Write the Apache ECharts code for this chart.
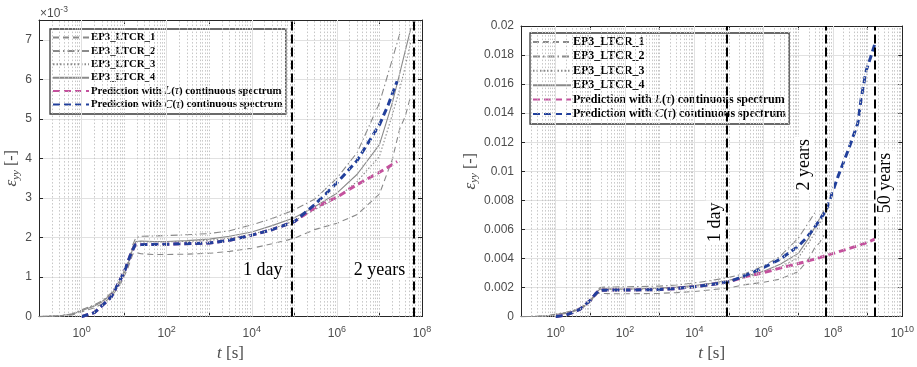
<!DOCTYPE html>
<html>
<head>
<meta charset="utf-8">
<script src="https://cdn.jsdelivr.net/npm/echarts@6/dist/echarts.min.js"></script>
<style>
  html, body { margin: 0; padding: 0; background: #fff; }
  #chart { width: 917px; height: 367px; }
</style>
</head>
<body>
<div id="chart"></div>
<script>
// ---- creep test records: time [s] and strain eps_yy in units of 1e-3 ----
const expTime = [0.1, 0.3, 0.6, 1, 2, 3, 5, 8, 12, 16, 19, 25, 50, 100, 300, 1e3, 3e3,
                 1e4, 3e4, 1e5, 3e5, 1e6, 3e6, 1e7, 2e7, 3e7, 4e7, 5.5e7];
const ltcr1 = [0, 0.01, 0.04, 0.12, 0.22, 0.32, 0.50, 0.80, 1.20, 1.58, 1.62, 1.59, 1.57, 1.57,
               1.58, 1.60, 1.65, 1.73, 1.84, 1.98, 2.20, 2.36, 2.58, 3.10, 3.97, 4.75, 5.05, 5.60];
const ltcr2 = [0, 0.02, 0.07, 0.17, 0.30, 0.40, 0.60, 0.92, 1.35, 1.82, 2.00, 2.03, 2.04, 2.05,
               2.07, 2.10, 2.17, 2.32, 2.48, 2.70, 2.97, 3.50, 4.15, 5.40, 6.50, 7.15, null, null];
const ltcr3 = [0, 0.02, 0.06, 0.16, 0.28, 0.38, 0.57, 0.88, 1.30, 1.75, 1.90, 1.89, 1.89, 1.89,
               1.90, 1.93, 1.98, 2.08, 2.22, 2.42, 2.70, 3.00, 3.42, 4.05, 5.10, 5.75, 6.30, 6.97];
const ltcr4 = [0, 0.02, 0.06, 0.15, 0.27, 0.37, 0.56, 0.86, 1.28, 1.72, 1.90, 1.91, 1.90, 1.90,
               1.92, 1.96, 2.03, 2.14, 2.30, 2.50, 2.78, 3.12, 3.60, 4.35, 5.40, 6.15, 6.70, 7.30];

// ---- model predictions (strain in units of 1e-3) ----
const predTime = [1, 2, 3.2, 5, 7, 10, 14, 18, 25, 100, 1e3, 3e3, 1e4, 3e4, 1e5, 3e5, 1e6, 3e6,
                  1e7, 1.6e7, 2.6e7, 6.3e7, 1.4e8, 3e8, 5.2e8, 6.5e8, 9e8, 1.2e9, 1.58e9];
const predL = [0, 0.10, 0.30, 0.50, 0.80, 1.12, 1.55, 1.81, 1.82, 1.83, 1.86, 1.93, 2.06, 2.20,
               2.40, 2.75, 3.02, 3.34, 3.65, 3.78, 3.92, 4.20, 4.45, 4.70, 4.88, 4.95, 5.07, 5.20, 5.33];
const predC = [0, 0.10, 0.30, 0.50, 0.80, 1.12, 1.55, 1.81, 1.82, 1.83, 1.86, 1.93, 2.06, 2.20,
               2.40, 2.83, 3.38, 3.95, 4.85, 5.35, 5.95, 7.30, 9.65, 11.7, 13.3, 15.0, 16.9, 17.8, 18.7];
const shortHorizon = 2.6e7;   // the left panel shows the predictions up to this time

// ---- reference durations [s] ----
const oneDay = 86400, twoYears = 6.3072e7, fiftyYears = 1.5768e9;

// ---- axis ranges ----
const leftX = [0.1, 1e8], rightX = [0.1, 1e10];
const leftY = [0, 0.0075], rightY = [0, 0.02];

const names = ['EP3_LTCR_1', 'EP3_LTCR_2', 'EP3_LTCR_3', 'EP3_LTCR_4',
               'Prediction with L(τ) continuous spectrum', 'Prediction with C(τ) continuous spectrum'];

const GRAY = '#8a8a8a', PINK = '#c4519d', BLUE = '#22409c', INK = '#262626';

const pairs = (ts, vs) => ts.map((t, i) => [t, vs[i] == null ? null : vs[i] * 1e-3]).filter(p => p[1] !== null);

function expSeries(xi, yi) {
  const styles = [
    { type: [6, 4], width: 1.1 },
    { type: [7, 3, 1.5, 3], width: 1.1 },
    { type: [1.5, 2], width: 1.1 },
    { type: 'solid', width: 1.1 }
  ];
  return [ltcr1, ltcr2, ltcr3, ltcr4].map((vals, k) => ({
    name: names[k], type: 'line', xAxisIndex: xi, yAxisIndex: yi,
    data: pairs(expTime, vals), symbol: 'none', z: 3, silent: true,
    lineStyle: Object.assign({ color: GRAY }, styles[k]), itemStyle: { color: GRAY }
  }));
}

function predSeries(xi, yi, horizon) {
  const keep = predTime.filter(t => t <= horizon);
  return [[predL, PINK, 4], [predC, BLUE, 5]].map(([vals, col, k]) => ({
    name: names[k], type: 'line', xAxisIndex: xi, yAxisIndex: yi,
    data: pairs(keep, vals), symbol: 'none', z: 4, silent: true,
    lineStyle: { color: col, width: 3, type: [7, 4] }, itemStyle: { color: col }
  }));
}

// log-axis grid lines: solid at labelled decades, dotted elsewhere
function gridLines(range) {
  const lo = Math.round(Math.log10(range[0])), hi = Math.round(Math.log10(range[1]));
  const major = { color: '#e1e1e1', width: 1, type: 'solid' };
  const minor = { color: '#c6c6c6', width: 1, type: [1.5, 2] };
  const out = [];
  for (let e = lo; e <= hi; e++) {
    const b = Math.pow(10, e);
    if (e > lo && e < hi) out.push({ xAxis: b, lineStyle: e % 2 === 0 ? major : minor });
    if (e < hi) for (let m = 2; m <= 9; m++) out.push({ xAxis: m * b, lineStyle: minor });
  }
  return out;
}

function gridSeries(xi, yi, range) {
  return {
    type: 'line', xAxisIndex: xi, yAxisIndex: yi, data: [], z: 1, silent: true,
    markLine: { silent: true, symbol: ['none', 'none'], label: { show: false }, animation: false,
                data: gridLines(range) }
  };
}

const labelFont = { fontFamily: 'Liberation Serif', fontSize: 18, color: '#000', backgroundColor: '#fff', padding: [1, 2] };

function markerSeries(xi, yi, lines, notes) {
  return {
    type: 'line', xAxisIndex: xi, yAxisIndex: yi, data: [], z: 6, silent: true,
    markLine: { silent: true, symbol: ['none', 'none'], label: { show: false }, animation: false,
                lineStyle: { color: '#000', width: 2, type: [9, 4] },
                data: lines.map(t => ({ xAxis: t })) },
    markPoint: { silent: true, symbol: 'rect', symbolSize: 0, animation: false,
                 data: notes.map(n => ({ name: n.text, coord: [n.t, n.y],
                   label: Object.assign({ show: true, formatter: '{b}', position: 'inside',
                     offset: n.offset, rotate: n.rotate || 0, align: 'center', verticalAlign: 'middle' }, labelFont) })) }
  };
}

function xLabel(v) {
  const l = Math.log10(v), e = Math.round(l);
  if (Math.abs(l - e) > 1e-6 || e % 2 !== 0) return '';
  return '10{s|' + e + '}';
}

const tickText = { fontFamily: 'Liberation Sans', fontSize: 12, color: '#4d4d4d' };

function xAxes(grid, range, gap) {
  const base = { type: 'log', logBase: 10, gridIndex: grid, min: range[0], max: range[1], interval: 1,
                 splitLine: { show: false }, axisLine: { show: true, onZero: false, lineStyle: { color: INK } },
                 axisTick: { show: true, inside: true, length: 4, lineStyle: { color: INK } } };
  return [
    Object.assign({}, base, {
      position: 'bottom',
      axisLabel: Object.assign({ formatter: xLabel, margin: 8, rich: { s: { fontSize: 9, padding: [0, 0, 10, 0], fontFamily: 'Liberation Sans', color: '#4d4d4d' } } }, tickText),
      name: '{i|t} [s]', nameLocation: 'middle', nameGap: gap,
      nameTextStyle: { fontFamily: 'Liberation Serif', fontSize: 17, color: '#4d4d4d', rich: { i: { fontStyle: 'italic', fontFamily: 'Liberation Serif', fontSize: 17, color: '#4d4d4d' } } }
    }),
    Object.assign({}, base, { position: 'top', axisLabel: { show: false } })
  ];
}

function yAxes(grid, range, step, fmt, gap) {
  const base = { type: 'value', gridIndex: grid, min: range[0], max: range[1], interval: step,
                 axisLine: { show: true, lineStyle: { color: INK } },
                 axisTick: { show: true, inside: true, length: 4, lineStyle: { color: INK } } };
  return [
    Object.assign({}, base, {
      position: 'left',
      splitLine: { show: true, lineStyle: { color: '#e1e1e1', width: 1 } },
      axisLabel: Object.assign({ formatter: fmt, margin: 7 }, tickText),
      name: '{e|ε}{s|yy} [-]', nameLocation: 'middle', nameRotate: 90, nameGap: gap,
      nameTextStyle: { fontFamily: 'Liberation Serif', fontSize: 16, color: '#4d4d4d',
        rich: { e: { fontFamily: 'Liberation Serif', fontStyle: 'italic', fontSize: 17, color: '#4d4d4d' },
                s: { fontFamily: 'Liberation Serif', fontStyle: 'italic', fontSize: 11, color: '#4d4d4d', padding: [8, 0, 0, 0] } } }
    }),
    Object.assign({}, base, { position: 'right', splitLine: { show: false }, axisLabel: { show: false } })
  ];
}

const milli = v => { const k = v * 1000, r = Math.round(k); return Math.abs(k - r) < 1e-6 ? String(r) : ''; };

function legendFor(left, top, size, lh, iw) {
  const it = { fontFamily: 'Liberation Serif', fontStyle: 'italic', fontWeight: 'normal', fontSize: size + 1, color: '#000' };
  return {
    orient: 'vertical', left: left, top: top, data: names, selectedMode: false,
    backgroundColor: '#fff', borderColor: '#3a3a3a', borderWidth: 1.3, borderRadius: 0,
    padding: [2, 3, 3, 2], itemGap: 0.4, itemWidth: iw, itemHeight: 10,
    itemStyle: { opacity: 0 },
    formatter: n => n.replace('L(τ)', '{i|L}({i|τ})').replace('C(τ)', '{i|C}({i|τ})'),
    textStyle: { fontFamily: 'Liberation Serif', fontWeight: 'bold', fontSize: size, lineHeight: lh, color: '#000',
                 padding: [0, 0, 0, -3], rich: { i: it } }
  };
}

const option = {
  animation: false,
  backgroundColor: '#fff',
  grid: [
    { left: 39, top: 20, width: 383, height: 299 },
    { left: 521, top: 26, width: 382, height: 298 }
  ],
  xAxis: [...xAxes(0, leftX, 25), ...xAxes(1, rightX, 27)],
  yAxis: [...yAxes(0, leftY, 0.001, milli, 15), ...yAxes(1, rightY, 0.002, null, 39)],
  legend: [legendFor(50, 29, 10.8, 13, 36), legendFor(530, 33, 12, 14, 38)],
  graphic: [{
    type: 'text', left: 40, top: 5, silent: true,
    style: { text: '×10{s|-3}', fontFamily: 'Liberation Sans', fontSize: 12, fill: '#4d4d4d',
             rich: { s: { fontSize: 8.5, fontFamily: 'Liberation Sans', fill: '#4d4d4d', padding: [0, 0, 9, 0] } } }
  }],
  series: [
    gridSeries(0, 0, leftX),
    ...expSeries(0, 0),
    ...predSeries(0, 0, shortHorizon),
    markerSeries(0, 0, [oneDay, twoYears], [
      { text: '1 day', t: oneDay, y: 0.00118, offset: [-29, 0] },
      { text: '2 years', t: twoYears, y: 0.00118, offset: [-34, 0] }
    ]),
    gridSeries(2, 2, rightX),
    ...expSeries(2, 2),
    ...predSeries(2, 2, Infinity),
    markerSeries(2, 2, [oneDay, twoYears, fiftyYears], [
      { text: '1 day', t: oneDay, y: 0.0065, offset: [0, -12], rotate: 90 },
      { text: '2 years', t: twoYears, y: 0.01045, offset: [0, -22], rotate: 90 },
      { text: '50 years', t: fiftyYears, y: 0.0092, offset: [0, 11], rotate: 90 }
    ])
  ]
};

const chart = echarts.init(document.getElementById('chart'), null, { renderer: 'canvas' });
chart.setOption(option);
</script>
</body>
</html>
